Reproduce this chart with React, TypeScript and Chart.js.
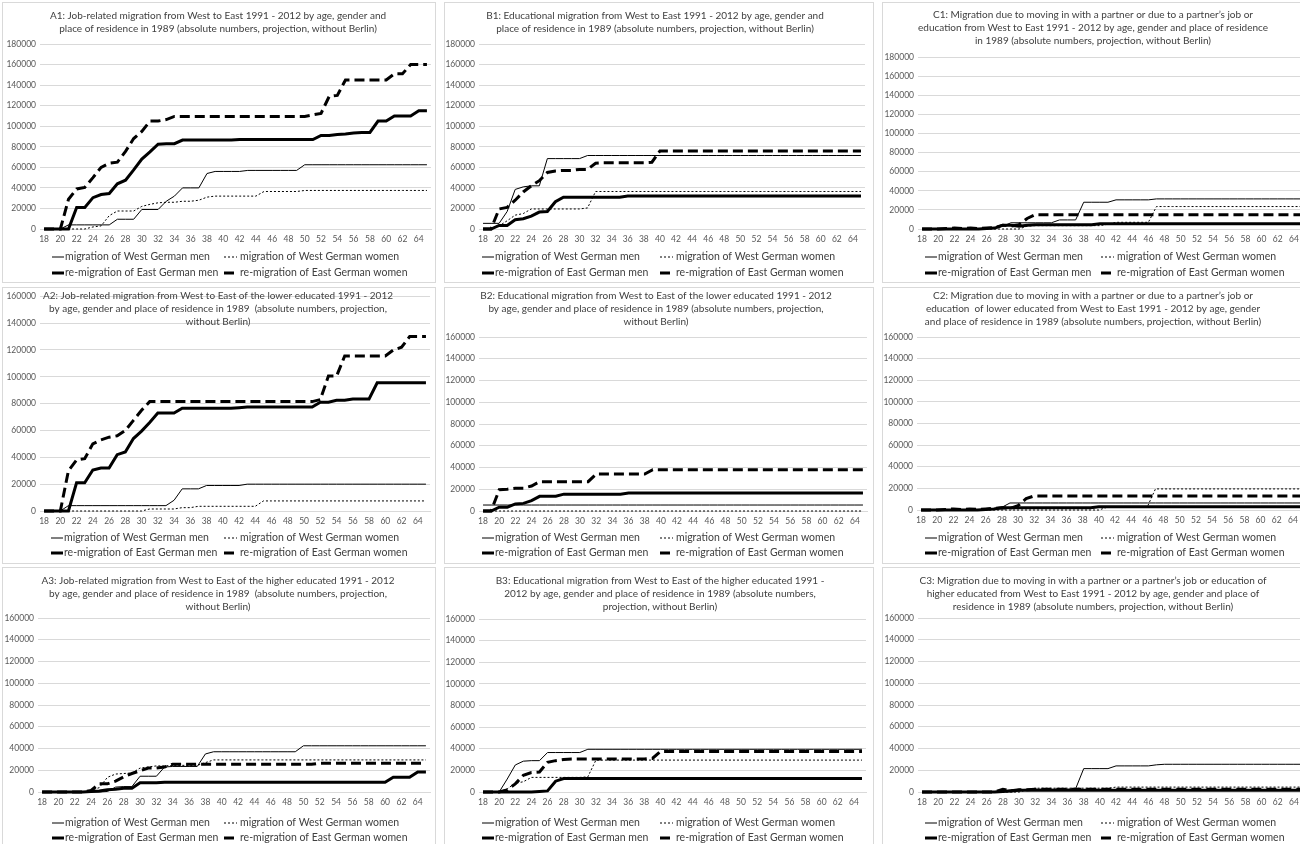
import React, { useEffect, useRef } from 'react';
import { Chart, registerables } from 'chart.js';

Chart.register(...registerables);

// ---------- categories ----------
const AGES = [18, 19, 20, 21, 22, 23, 24, 25, 26, 27, 28, 29, 30, 31, 32, 33, 34, 35, 36, 37, 38, 39, 40, 41, 42, 43, 44, 45, 46, 47, 48, 49, 50, 51, 52, 53, 54, 55, 56, 57, 58, 59, 60, 61, 62, 63, 64, 65];

const LEGEND_LABELS = [
  'migration of West German men',
  'migration of West German women',
  're-migration of East German men',
  're-migration of East German women',
];

const Y_TICK_STEP = 20000;
const Y_MAX_ROW1 = 180000;
const Y_MAX_ROW23 = 160000;

// ---------- A1 ----------
const A1_WEST_MEN = [
  0, 0, 0, 4000, 4000, 4000, 4000, 4000, 4000, 9500,
  9500, 9500, 19000, 19000, 19000, 27000, 32000, 40000, 40000, 40000,
  54000, 56000, 56000, 56000, 56000, 57000, 57000, 57000, 57000, 57000,
  57000, 57000, 62500, 62500, 62500, 62500, 62500, 62500, 62500, 62500,
  62500, 62500, 62500, 62500, 62500, 62500, 62500, 62500];
const A1_WEST_WOMEN = [
  0, 0, 0, 0, 0, 0, 2000, 3000, 13000, 17500,
  17500, 17500, 22000, 24000, 25500, 26000, 26000, 27000, 27000, 28000,
  31000, 32000, 32000, 32000, 32000, 32000, 32000, 36500, 36500, 36500,
  36500, 36500, 37500, 37500, 37500, 37500, 37500, 37500, 37500, 37500,
  37500, 37500, 37500, 37500, 37500, 37500, 37500, 37500];
const A1_EAST_MEN = [
  0, 0, 0, 0, 21000, 21000, 30500, 33500, 34500, 44000,
  47500, 57500, 68000, 75000, 82500, 83000, 83000, 86500, 86500, 86500,
  86500, 86500, 86500, 86500, 87000, 87000, 87000, 87000, 87000, 87000,
  87000, 87000, 87000, 87000, 91000, 91000, 92000, 92500, 93500, 94000,
  94000, 105000, 105000, 110000, 110000, 110000, 115000, 115000];
const A1_EAST_WOMEN = [
  0, 0, 0, 29000, 39000, 40500, 50000, 60000, 64000, 65000,
  75500, 88000, 95000, 105000, 105000, 106500, 109500, 109500, 109500, 109500,
  109500, 109500, 109500, 109500, 109500, 109500, 109500, 109500, 109500, 109500,
  109500, 109500, 109500, 111000, 112500, 129000, 130000, 145000, 145000, 145000,
  145000, 145000, 145000, 151000, 151000, 160000, 160000, 160000];

// ---------- A2 ----------
const A2_WEST_MEN = [
  0, 0, 0, 4000, 4000, 4000, 4000, 4000, 4000, 4000,
  4000, 4000, 4000, 4000, 4000, 4000, 8000, 16500, 16500, 16500,
  19000, 19000, 19000, 19000, 19000, 20000, 20000, 20000, 20000, 20000,
  20000, 20000, 20000, 20000, 20000, 20000, 20000, 20000, 20000, 20000,
  20000, 20000, 20000, 20000, 20000, 20000, 20000, 20000];
const A2_WEST_WOMEN = [
  0, 0, 0, 0, 0, 0, 0, 0, 0, 0,
  0, 0, 0, 1500, 1500, 1500, 1500, 2500, 2500, 3500,
  3500, 3500, 3500, 3500, 3500, 3500, 3500, 7500, 7500, 7500,
  7500, 7500, 7500, 7500, 7500, 7500, 7500, 7500, 7500, 7500,
  7500, 7500, 7500, 7500, 7500, 7500, 7500, 7500];
const A2_EAST_MEN = [
  0, 0, 0, 0, 21000, 21000, 30500, 32000, 32000, 42000,
  44000, 54000, 59500, 66000, 73000, 73000, 73000, 76500, 76500, 76500,
  76500, 76500, 76500, 76500, 77000, 77500, 77500, 77500, 77500, 77500,
  77500, 77500, 77500, 77500, 81000, 81000, 82500, 82500, 83500, 83500,
  83500, 95500, 95500, 95500, 95500, 95500, 95500, 95500];
const A2_EAST_WOMEN = [
  0, 0, 0, 30000, 38000, 39000, 50000, 53000, 55000, 56000,
  60000, 67500, 75000, 81500, 81500, 81500, 81500, 81500, 81500, 81500,
  81500, 81500, 81500, 81500, 81500, 81500, 81500, 81500, 81500, 81500,
  81500, 81500, 81500, 81500, 83000, 100500, 100500, 115500, 115500, 115500,
  115500, 115500, 115500, 120000, 122000, 130000, 130000, 130000];

// ---------- A3 ----------
const A3_WEST_MEN = [
  0, 0, 0, 0, 0, 0, 0, 0, 500, 4500,
  5000, 5000, 14500, 14500, 14500, 23000, 23500, 23500, 23500, 23500,
  35000, 37000, 37000, 37000, 37000, 37000, 37000, 37000, 37000, 37000,
  37000, 37000, 42500, 42500, 42500, 42500, 42500, 42500, 42500, 42500,
  42500, 42500, 42500, 42500, 42500, 42500, 42500, 42500];
const A3_WEST_WOMEN = [
  0, 0, 0, 0, 0, 0, 1500, 4000, 13500, 16500,
  17000, 17500, 22000, 23000, 24000, 24000, 24500, 24500, 24500, 24500,
  27000, 29500, 29500, 29500, 29500, 29500, 29500, 29500, 29500, 29500,
  29500, 29500, 29500, 29500, 29500, 29500, 29500, 29500, 29500, 29500,
  29500, 29500, 29500, 29500, 29500, 29500, 29500, 29500];
const A3_EAST_MEN = [
  0, 0, 0, 0, 0, 0, 500, 1000, 2000, 2500,
  3500, 3500, 8500, 8500, 8500, 9000, 9000, 9000, 9000, 9000,
  9000, 9000, 9000, 9000, 9000, 9000, 9000, 9000, 9000, 9000,
  9000, 9000, 9000, 9000, 9000, 9000, 9000, 9000, 9000, 9000,
  9000, 9000, 9000, 13500, 13500, 13500, 18500, 18500];
const A3_EAST_WOMEN = [
  0, 0, 0, 0, 0, 0, 1500, 7500, 7500, 10000,
  14000, 17000, 19500, 22000, 22000, 23000, 25500, 25500, 25500, 25500,
  25500, 25500, 25500, 25500, 25500, 25500, 25500, 25500, 25500, 25500,
  25500, 25500, 25500, 25500, 26500, 26500, 26500, 26500, 26500, 26500,
  26500, 26500, 26500, 26500, 26500, 26500, 26500, 26500];

// ---------- B1 ----------
const B1_WEST_MEN = [
  5500, 5500, 5500, 17000, 38500, 41000, 42000, 42000, 68500, 68500,
  68500, 68500, 68500, 71500, 71500, 71500, 71500, 71500, 71500, 71500,
  71500, 71500, 71500, 71500, 71500, 71500, 71500, 71500, 71500, 71500,
  71500, 71500, 71500, 71500, 71500, 71500, 71500, 71500, 71500, 71500,
  71500, 71500, 71500, 71500, 71500, 71500, 71500, 71500];
const B1_WEST_WOMEN = [
  0, 0, 3000, 8000, 13500, 15000, 19500, 19500, 19500, 19500,
  19500, 19500, 19500, 20500, 36500, 36500, 36500, 36500, 36500, 36500,
  36500, 36500, 36500, 36500, 36500, 36500, 36500, 36500, 36500, 36500,
  36500, 36500, 36500, 36500, 36500, 36500, 36500, 36500, 36500, 36500,
  36500, 36500, 36500, 36500, 36500, 36500, 36500, 36500];
const B1_EAST_MEN = [
  0, 0, 3500, 3500, 9000, 10000, 12500, 16500, 17000, 26500,
  31000, 31000, 31000, 31000, 31000, 31000, 31000, 31000, 32000, 32000,
  32000, 32000, 32000, 32000, 32000, 32000, 32000, 32000, 32000, 32000,
  32000, 32000, 32000, 32000, 32000, 32000, 32000, 32000, 32000, 32000,
  32000, 32000, 32000, 32000, 32000, 32000, 32000, 32000];
const B1_EAST_WOMEN = [
  0, 0, 19500, 21000, 28000, 36000, 42000, 47000, 55000, 56500,
  57000, 57000, 58000, 58000, 64000, 64500, 64500, 64500, 64500, 64500,
  64500, 65000, 76000, 76000, 76000, 76000, 76000, 76000, 76000, 76000,
  76000, 76000, 76000, 76000, 76000, 76000, 76000, 76000, 76000, 76000,
  76000, 76000, 76000, 76000, 76000, 76000, 76000, 76000];

// ---------- B2 ----------
const B2_WEST_MEN = [
  5500, 5500, 5500, 5500, 5500, 5500, 5500, 5500, 5500, 5500,
  5500, 5500, 5500, 5500, 5500, 5500, 5500, 5500, 5500, 5500,
  5500, 5500, 5500, 5500, 5500, 5500, 5500, 5500, 5500, 5500,
  5500, 5500, 5500, 5500, 5500, 5500, 5500, 5500, 5500, 5500,
  5500, 5500, 5500, 5500, 5500, 5500, 5500, 5500];
const B2_WEST_WOMEN = [
  0, 0, 0, 0, 0, 0, 0, 0, 0, 0,
  0, 0, 0, 0, 0, 0, 0, 0, 0, 0,
  0, 0, 0, 0, 0, 0, 0, 0, 0, 0,
  0, 0, 0, 0, 0, 0, 0, 0, 0, 0,
  0, 0, 0, 0, 0, 0, 0, 0];
const B2_EAST_MEN = [
  0, 0, 3500, 3500, 6500, 7000, 9500, 13500, 13500, 13500,
  15500, 15500, 15500, 15500, 15500, 15500, 15500, 15500, 16500, 16500,
  16500, 16500, 16500, 16500, 16500, 16500, 16500, 16500, 16500, 16500,
  16500, 16500, 16500, 16500, 16500, 16500, 16500, 16500, 16500, 16500,
  16500, 16500, 16500, 16500, 16500, 16500, 16500, 16500];
const B2_EAST_WOMEN = [
  0, 0, 19500, 20000, 21000, 21000, 23000, 27000, 27000, 27000,
  27000, 27000, 27000, 27000, 34000, 34000, 34000, 34000, 34000, 34000,
  34000, 38000, 38000, 38000, 38000, 38000, 38000, 38000, 38000, 38000,
  38000, 38000, 38000, 38000, 38000, 38000, 38000, 38000, 38000, 38000,
  38000, 38000, 38000, 38000, 38000, 38000, 38000, 38000];

// ---------- B3 ----------
const B3_WEST_MEN = [
  0, 0, 0, 12000, 25000, 28500, 29000, 29000, 36500, 36500,
  36500, 36500, 36500, 39500, 39500, 39500, 39500, 39500, 39500, 39500,
  39500, 39500, 39500, 39500, 39500, 39500, 39500, 39500, 39500, 39500,
  39500, 39500, 39500, 39500, 39500, 39500, 39500, 39500, 39500, 39500,
  39500, 39500, 39500, 39500, 39500, 39500, 39500, 39500];
const B3_WEST_WOMEN = [
  0, 0, 0, 3000, 8000, 9500, 13500, 13500, 13500, 13500,
  13500, 13500, 13500, 14000, 29500, 29500, 29500, 29500, 29500, 29500,
  29500, 29500, 29500, 29500, 29500, 29500, 29500, 29500, 29500, 29500,
  29500, 29500, 29500, 29500, 29500, 29500, 29500, 29500, 29500, 29500,
  29500, 29500, 29500, 29500, 29500, 29500, 29500, 29500];
const B3_EAST_MEN = [
  0, 0, 0, 0, 0, 0, 0, 500, 1000, 10000,
  12500, 12500, 12500, 12500, 12500, 12500, 12500, 12500, 12500, 12500,
  12500, 12500, 12500, 12500, 12500, 12500, 12500, 12500, 12500, 12500,
  12500, 12500, 12500, 12500, 12500, 12500, 12500, 12500, 12500, 12500,
  12500, 12500, 12500, 12500, 12500, 12500, 12500, 12500];
const B3_EAST_WOMEN = [
  0, 0, 0, 2000, 7500, 15500, 18000, 18500, 27500, 29000,
  30000, 30500, 30500, 30500, 30500, 30500, 30500, 30500, 30500, 30500,
  30500, 31000, 37500, 37500, 37500, 37500, 37500, 37500, 37500, 37500,
  37500, 37500, 37500, 37500, 37500, 37500, 37500, 37500, 37500, 37500,
  37500, 37500, 37500, 37500, 37500, 37500, 37500, 37500];

// ---------- C1 ----------
const C1_WEST_MEN = [
  0, 0, 0, 0, 500, 500, 500, 500, 500, 1500,
  3000, 6500, 6500, 6500, 6500, 6500, 6500, 9500, 9500, 9500,
  28000, 28000, 28000, 28000, 30500, 30500, 30500, 30500, 30500, 31500,
  31500, 31500, 31500, 31500, 31500, 31500, 31500, 31500, 31500, 31500,
  31500, 31500, 31500, 31500, 31500, 31500, 31500, 31500];
const C1_WEST_WOMEN = [
  0, 0, 0, 0, 0, 0, 0, 0, 0, 0,
  0, 0, 0, 3000, 3500, 3500, 3500, 3500, 3500, 3500,
  3500, 3500, 3500, 5000, 7000, 7000, 7000, 7000, 7000, 23500,
  23500, 23500, 23500, 23500, 23500, 23500, 23500, 23500, 23500, 23500,
  23500, 23500, 23500, 23500, 23500, 23500, 23500, 23500];
const C1_EAST_MEN = [
  0, 0, 0, 0, 0, 0, 0, 0, 500, 1000,
  4000, 4000, 3000, 4000, 4500, 4500, 4500, 4500, 4500, 4500,
  4500, 4500, 5500, 5500, 5500, 5500, 5500, 5500, 5500, 5500,
  5500, 5500, 5500, 5500, 5500, 5500, 5500, 5500, 5500, 5500,
  5500, 5500, 5500, 5500, 5500, 5500, 5500, 5500];
const C1_EAST_WOMEN = [
  0, 0, 0, 500, 1000, 500, 1000, 500, 1000, 1500,
  4000, 3000, 4500, 11000, 15000, 15000, 15000, 15000, 15000, 15000,
  15000, 15000, 15000, 15000, 15000, 15000, 15000, 15000, 15000, 15000,
  15000, 15000, 15000, 15000, 15000, 15000, 15000, 15000, 15000, 15000,
  15000, 15000, 15000, 15000, 15000, 15000, 15000, 15000];

// ---------- C2 ----------
const C2_WEST_MEN = [
  0, 0, 0, 0, 0, 0, 0, 500, 500, 1000,
  2500, 6500, 6500, 6500, 6500, 6500, 6500, 6500, 6500, 6500,
  6500, 6500, 6500, 6500, 6500, 6500, 6500, 6500, 6500, 6500,
  6500, 6500, 6500, 6500, 6500, 6500, 6500, 6500, 6500, 6500,
  6500, 6500, 6500, 6500, 6500, 6500, 6500, 6500];
const C2_WEST_WOMEN = [
  0, 0, 0, 0, 0, 0, 0, 0, 0, 0,
  0, 0, 0, 0, 0, 0, 0, 0, 0, 0,
  0, 0, 0, 2500, 3000, 3000, 3000, 3000, 3000, 19500,
  19500, 19500, 19500, 19500, 19500, 19500, 19500, 19500, 19500, 19500,
  19500, 19500, 19500, 19500, 19500, 19500, 19500, 19500];
const C2_EAST_MEN = [
  0, 0, 0, 0, 0, 0, 0, 0, 500, 1000,
  2000, 2000, 2000, 2000, 2000, 2000, 2000, 2000, 2000, 2000,
  2000, 2000, 3000, 3000, 3000, 3000, 3000, 3000, 3000, 3000,
  3000, 3000, 3000, 3000, 3000, 3000, 3000, 3000, 3000, 3000,
  3000, 3000, 3000, 3000, 3000, 3000, 3000, 3000];
const C2_EAST_WOMEN = [
  0, 0, 0, 500, 1000, 500, 1000, 500, 1000, 1500,
  2000, 1500, 4000, 10500, 13000, 13000, 13000, 13000, 13000, 13000,
  13000, 13000, 13000, 13000, 13000, 13000, 13000, 13000, 13000, 13000,
  13000, 13000, 13000, 13000, 13000, 13000, 13000, 13000, 13000, 13000,
  13000, 13000, 13000, 13000, 13000, 13000, 13000, 13000];

// ---------- C3 ----------
const C3_WEST_MEN = [
  0, 0, 0, 0, 0, 0, 0, 0, 0, 500,
  1000, 2000, 2000, 2500, 2500, 2500, 2500, 2500, 2500, 3000,
  21500, 21500, 21500, 21500, 24000, 24000, 24000, 24000, 24000, 25000,
  25500, 25500, 25500, 25500, 25500, 25500, 25500, 25500, 25500, 25500,
  25500, 25500, 25500, 25500, 25500, 25500, 25500, 25500];
const C3_WEST_WOMEN = [
  0, 0, 0, 0, 0, 0, 0, 0, 0, 0,
  0, 0, 0, 2000, 3500, 3500, 3500, 3500, 3500, 3500,
  3500, 3500, 3500, 3500, 4500, 4500, 4500, 4500, 4500, 4500,
  4500, 4500, 4500, 4500, 4500, 4500, 4500, 4500, 4500, 4500,
  4500, 4500, 4500, 4500, 4500, 4500, 4500, 4500];
const C3_EAST_MEN = [
  0, 0, 0, 0, 0, 0, 0, 0, 0, 0,
  500, 1000, 1500, 1500, 1500, 1500, 1500, 1500, 1500, 1500,
  1500, 1500, 1500, 1500, 1500, 1500, 1500, 1500, 1500, 1500,
  1500, 1500, 1500, 1500, 1500, 1500, 1500, 1500, 1500, 1500,
  1500, 1500, 1500, 1500, 1500, 1500, 1500, 1500];
const C3_EAST_WOMEN = [
  0, 0, 0, 0, 0, 0, 0, 0, 0, 0,
  2500, 1000, 2000, 2000, 2500, 2500, 2500, 2500, 2500, 2500,
  2500, 2500, 2500, 2500, 2500, 2500, 2500, 2500, 2500, 2500,
  2500, 2500, 2500, 2500, 2500, 2500, 2500, 2500, 2500, 2500,
  2500, 2500, 2500, 2500, 2500, 2500, 2500, 2500];

// ---------- titles ----------
const TITLE_A1 = ['A1: Job-related migration from West to East 1991 - 2012 by age, gender and', 'place of residence in 1989 (absolute numbers, projection, without Berlin)'];
const TITLE_B1 = ['B1: Educational migration from West to East 1991 - 2012 by age, gender and', 'place of residence in 1989 (absolute numbers, projection, without Berlin)'];
const TITLE_C1 = ['C1: Migration due to moving in with a partner or due to a partner\u2019s job or', 'education from West to East 1991 - 2012 by age, gender and place of residence', 'in 1989 (absolute numbers, projection, without Berlin)'];
const TITLE_A2 = ['A2: Job-related migration from West to East of the lower educated 1991 - 2012', 'by age, gender and place of residence in 1989  (absolute numbers, projection,', 'without Berlin)'];
const TITLE_B2 = ['B2: Educational migration from West to East of the lower educated 1991 - 2012', 'by age, gender and place of residence in 1989 (absolute numbers, projection,', 'without Berlin)'];
const TITLE_C2 = ['C2: Migration due to moving in with a partner or due to a partner\u2019s job or', 'education  of lower educated from West to East 1991 - 2012 by age, gender', 'and place of residence in 1989 (absolute numbers, projection, without Berlin)'];
const TITLE_A3 = ['A3: Job-related migration from West to East of the higher educated 1991 - 2012', 'by age, gender and place of residence in 1989  (absolute numbers, projection,', 'without Berlin)'];
const TITLE_B3 = ['B3: Educational migration from West to East of the higher educated 1991 -', '2012 by age, gender and place of residence in 1989 (absolute numbers,', 'projection, without Berlin)'];
const TITLE_C3 = ['C3: Migration due to moving in with a partner or a partner\u2019s job or education of', 'higher educated from West to East 1991 - 2012 by age, gender and place of', 'residence in 1989 (absolute numbers, projection, without Berlin)'];

// ---------- styles ----------
const FONT = 'Lato, "Open Sans", sans-serif';
const TITLE_SIZE = 10;
const LEGEND_SIZE = 10.5;
const TICK_SIZE = 8.5;
const TEXT_COLOR = '#404040';
const TICK_COLOR = '#595959';
const GRID_COLOR = '#d9d9d9';
const SERIES_STYLE = [
  { width: 1, dash: [] as number[], color: '#000000' },
  { width: 1, dash: [2, 2], color: '#000000' },
  { width: 3, dash: [] as number[], color: '#000000' },
  { width: 3, dash: [10, 5], color: '#000000' },
];

type PanelCfg = {
  key: string;
  left: number; top: number; width: number; height: number;
  plotLeft: number; plotRight: number; plotTop: number; plotBottom: number;
  yMax: number;
  title: string[]; titleX: number; titleYs: number[];
  legendYs: number[]; legendXs: number[];
  series: number[][];
};

const PANELS: PanelCfg[] = [
  { key: 'A1', left: 2, top: 2, width: 434, height: 281, plotLeft: 40, plotRight: 431, plotTop: 44, plotBottom: 229, yMax: Y_MAX_ROW1,
    title: TITLE_A1, titleX: 218, titleYs: [16, 29], legendYs: [257, 273], legendXs: [65, 240],
    series: [A1_WEST_MEN, A1_WEST_WOMEN, A1_EAST_MEN, A1_EAST_WOMEN] },
  { key: 'B1', left: 444, top: 2, width: 430, height: 281, plotLeft: 479, plotRight: 865, plotTop: 44, plotBottom: 229, yMax: Y_MAX_ROW1,
    title: TITLE_B1, titleX: 655, titleYs: [16, 29], legendYs: [257, 273], legendXs: [495, 676],
    series: [B1_WEST_MEN, B1_WEST_WOMEN, B1_EAST_MEN, B1_EAST_WOMEN] },
  { key: 'C1', left: 882, top: 2, width: 430, height: 281, plotLeft: 918, plotRight: 1306, plotTop: 57, plotBottom: 229, yMax: Y_MAX_ROW1,
    title: TITLE_C1, titleX: 1093, titleYs: [15, 28, 41], legendYs: [257, 273], legendXs: [938, 1117],
    series: [C1_WEST_MEN, C1_WEST_WOMEN, C1_EAST_MEN, C1_EAST_WOMEN] },
  { key: 'A2', left: 2, top: 287, width: 434, height: 277, plotLeft: 40, plotRight: 430, plotTop: 292, plotBottom: 511, yMax: Y_MAX_ROW23,
    title: TITLE_A2, titleX: 218, titleYs: [296, 309, 322], legendYs: [538, 553], legendXs: [64, 240],
    series: [A2_WEST_MEN, A2_WEST_WOMEN, A2_EAST_MEN, A2_EAST_WOMEN] },
  { key: 'B2', left: 444, top: 287, width: 430, height: 277, plotLeft: 479, plotRight: 867, plotTop: 337, plotBottom: 511, yMax: Y_MAX_ROW23,
    title: TITLE_B2, titleX: 656, titleYs: [296, 309, 322], legendYs: [538, 553], legendXs: [495, 676],
    series: [B2_WEST_MEN, B2_WEST_WOMEN, B2_EAST_MEN, B2_EAST_WOMEN] },
  { key: 'C2', left: 882, top: 287, width: 430, height: 277, plotLeft: 917, plotRight: 1305, plotTop: 337, plotBottom: 510, yMax: Y_MAX_ROW23,
    title: TITLE_C2, titleX: 1093, titleYs: [296, 309, 322], legendYs: [538, 553], legendXs: [938, 1117],
    series: [C2_WEST_MEN, C2_WEST_WOMEN, C2_EAST_MEN, C2_EAST_WOMEN] },
  { key: 'A3', left: 2, top: 567, width: 434, height: 281, plotLeft: 38, plotRight: 430, plotTop: 618, plotBottom: 792, yMax: Y_MAX_ROW23,
    title: TITLE_A3, titleX: 218, titleYs: [581, 594, 607], legendYs: [823, 838], legendXs: [65, 240],
    series: [A3_WEST_MEN, A3_WEST_WOMEN, A3_EAST_MEN, A3_EAST_WOMEN] },
  { key: 'B3', left: 444, top: 567, width: 430, height: 281, plotLeft: 479, plotRight: 866, plotTop: 619, plotBottom: 792, yMax: Y_MAX_ROW23,
    title: TITLE_B3, titleX: 660, titleYs: [581, 594, 607], legendYs: [823, 838], legendXs: [495, 676],
    series: [B3_WEST_MEN, B3_WEST_WOMEN, B3_EAST_MEN, B3_EAST_WOMEN] },
  { key: 'C3', left: 882, top: 567, width: 430, height: 281, plotLeft: 918, plotRight: 1306, plotTop: 618, plotBottom: 792, yMax: Y_MAX_ROW23,
    title: TITLE_C3, titleX: 1093, titleYs: [581, 594, 607], legendYs: [823, 838], legendXs: [938, 1117],
    series: [C3_WEST_MEN, C3_WEST_WOMEN, C3_EAST_MEN, C3_EAST_WOMEN] },
];

const X_AXIS_H = 18;

function Panel({ cfg }: { cfg: PanelCfg }) {
  const ref = useRef<HTMLCanvasElement | null>(null);
  const ox = cfg.left + 1;
  const oy = cfg.top + 1;
  const cw = cfg.width - 2;
  const ch = cfg.height - 2;

  useEffect(() => {
    if (!ref.current) return;
    const plotL = cfg.plotLeft - ox;
    const plotR = cfg.plotRight - ox;
    const plotT = cfg.plotTop - oy;
    const plotB = cfg.plotBottom - oy;

    const overlay = {
      id: 'overlay' + cfg.key,
      afterDraw(chart: any) {
        const ctx = chart.ctx as CanvasRenderingContext2D;
        ctx.save();
        ctx.fillStyle = TEXT_COLOR;
        ctx.font = `${TITLE_SIZE}px ${FONT}`;
        ctx.textAlign = 'center';
        ctx.textBaseline = 'middle';
        cfg.title.forEach((t, i) => ctx.fillText(t, cfg.titleX - ox, cfg.titleYs[i] - oy));
        ctx.font = `${LEGEND_SIZE}px ${FONT}`;
        ctx.textAlign = 'left';
        LEGEND_LABELS.forEach((lab, i) => {
          const col = i % 2;
          const row = Math.floor(i / 2);
          const st = SERIES_STYLE[i];
          const tx = cfg.legendXs[col] - ox;
          const y = cfg.legendYs[row] - oy;
          const x1 = col === 0 ? tx - 13 : tx - 16;
          const x2 = col === 0 ? tx - 1 : tx - 3;
          ctx.save();
          ctx.strokeStyle = st.color;
          ctx.lineWidth = st.width;
          ctx.setLineDash(st.dash);
          ctx.beginPath();
          ctx.moveTo(x1, y);
          ctx.lineTo(x2, y);
          ctx.stroke();
          ctx.restore();
          ctx.fillStyle = TEXT_COLOR;
          ctx.fillText(lab, tx, y);
        });
        ctx.restore();
      },
    };

    const chart = new Chart(ref.current, {
      type: 'line',
      data: {
        labels: AGES.map(String),
        datasets: cfg.series.map((d, i) => ({
          label: LEGEND_LABELS[i],
          data: d,
          borderColor: SERIES_STYLE[i].color,
          backgroundColor: SERIES_STYLE[i].color,
          borderWidth: SERIES_STYLE[i].width,
          borderDash: SERIES_STYLE[i].dash,
          pointRadius: 0,
          tension: 0,
          fill: false,
          clip: 6,
          order: 4 - i,
        })),
      },
      options: {
        responsive: false,
        animation: false,
        devicePixelRatio: 1,
        events: [],
        layout: { padding: { left: 0, top: plotT, right: cw - plotR, bottom: ch - plotB - X_AXIS_H } },
        plugins: { legend: { display: false }, title: { display: false }, tooltip: { enabled: false } },
        scales: {
          x: {
            type: 'category',
            offset: true,
            grid: { display: false, drawTicks: false },
            border: { display: true, color: GRID_COLOR, width: 1 },
            ticks: {
              autoSkip: false, maxRotation: 0, minRotation: 0, padding: 5,
              color: TICK_COLOR, font: { family: FONT, size: TICK_SIZE },
              callback: (_v: any, i: number) => (AGES[i] % 2 === 0 ? String(AGES[i]) : ''),
            },
            afterFit: (s: any) => { s.height = X_AXIS_H; },
          },
          y: {
            min: 0, max: cfg.yMax,
            grid: { color: GRID_COLOR, drawTicks: false, lineWidth: 1 },
            border: { display: false },
            ticks: {
              stepSize: Y_TICK_STEP, padding: 4,
              color: TICK_COLOR, font: { family: FONT, size: TICK_SIZE, lineHeight: 1 },
              callback: (v: any) => String(v),
            },
            afterFit: (s: any) => { s.width = plotL; },
          },
        },
      },
      plugins: [overlay],
    } as any);
    return () => chart.destroy();
  }, [cfg]);

  return (
    <div style={{ position: 'absolute', left: cfg.left, top: cfg.top, width: cfg.width, height: cfg.height, border: '1px solid #d9d9d9', boxSizing: 'border-box', background: '#fff' }}>
      <canvas ref={ref} width={cw} height={ch} style={{ position: 'absolute', left: 0, top: 0, width: cw, height: ch }} />
    </div>
  );
}

export default function App() {
  return (
    <div style={{ position: 'absolute', left: 0, top: 0, width: 1300, height: 844, overflow: 'hidden', background: '#fff' }}>
      {PANELS.map((p) => <Panel key={p.key} cfg={p} />)}
    </div>
  );
}
